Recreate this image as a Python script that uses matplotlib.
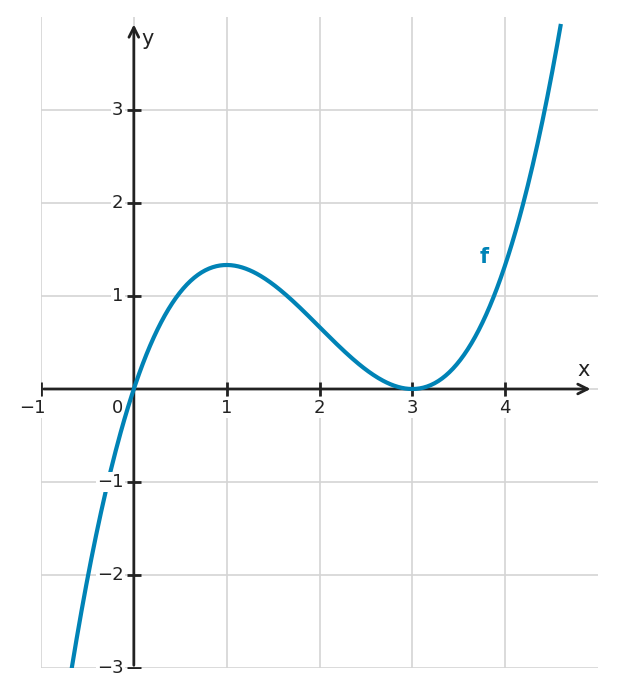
import numpy as np
import matplotlib
matplotlib.use("Agg")
import matplotlib.pyplot as plt

# f(x) = 1/3 x^3 - 2 x^2 + 3 x  (= 1/3 x (x-3)^2)
coeffs = [1/3, -2.0, 3.0, 0.0]
x_range = [-0.67, 4.6]
x_ticks = [-1, 1, 2, 3, 4]
y_ticks = [-3, -2, -1, 1, 2, 3]
x_grid = [-1, 0, 1, 2, 3, 4]
y_grid = [-3, -2, -1, 0, 1, 2, 3]

fig = plt.figure(figsize=(6.17, 6.96), dpi=100)
ax = fig.add_axes([41/617, 28/696, (598-41)/617, (668-17)/696])
ax.set_xlim(-1, 5)
ax.set_ylim(-3, 4)
for s in ax.spines.values():
    s.set_visible(False)
ax.set_xticks([]); ax.set_yticks([])

gc = '#d4d4d4'
for gx in x_grid:
    ax.axvline(gx, color=gc, lw=1.2, zorder=0)
for gy in y_grid:
    ax.axhline(gy, color=gc, lw=1.2, zorder=0)

axc = '#222222'
ax.annotate('', xy=(4.95, 0), xytext=(-1, 0),
            arrowprops=dict(arrowstyle='->,head_length=0.7,head_width=0.35', color=axc, lw=2), zorder=3)
ax.annotate('', xy=(0, 3.95), xytext=(0, -3),
            arrowprops=dict(arrowstyle='->,head_length=0.7,head_width=0.35', color=axc, lw=2), zorder=3)

ax.plot(x_ticks, [0]*len(x_ticks), linestyle='none', marker='|', markersize=10, mew=2, color=axc, zorder=3)
ax.plot([0]*len(y_ticks), y_ticks, linestyle='none', marker='_', markersize=10, mew=2, color=axc, zorder=3)

xs = np.linspace(x_range[0], x_range[1], 400)
ax.plot(xs, np.polyval(coeffs, xs), color='#0083b6', lw=3, zorder=4, solid_capstyle='butt')
ax.text(3.77, 1.42, 'f', ha='center', va='center', fontsize=15, fontweight='bold', color='#0083b6')

fs = 13
tc = '#222222'
bb = dict(facecolor='white', edgecolor='none', pad=1.0)
for t in x_ticks:
    lab = str(t).replace('-', '\u2212')
    xp = -1.09 if t == -1 else t
    ax.text(xp, -0.2, lab, ha='center', va='center', fontsize=fs, color=tc, bbox=bb, zorder=5)
ax.text(-0.18, -0.2, '0', ha='center', va='center', fontsize=fs, color=tc, zorder=5)
for t in y_ticks:
    lab = str(t).replace('-', '\u2212')
    ax.text(-0.11, t, lab, ha='right', va='center', fontsize=fs, color=tc, bbox=bb, zorder=5)

ax.text(4.85, 0.2, 'x', ha='center', va='center', fontsize=15, color=tc)
ax.text(0.15, 3.76, 'y', ha='center', va='center', fontsize=15, color=tc)

fig.savefig('out.png', dpi=100)
